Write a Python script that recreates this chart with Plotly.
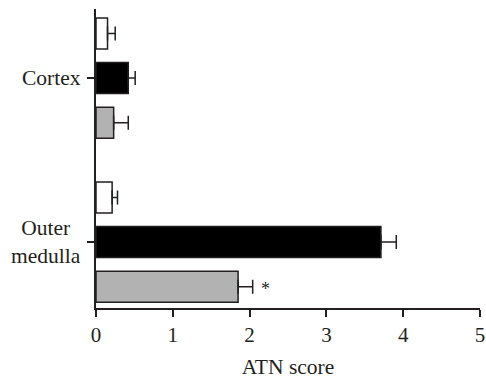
import plotly.graph_objects as go

# Regions (bottom to top on the y axis) and the three series per region
regions = ["Outer<br>medulla", "Cortex"]
series_names = ["Control", "Untreated", "Treated"]
series_fill = ["#ffffff", "#000000", "#b2b2b2"]

# ATN score means and SEM, ordered as [Outer medulla, Cortex]
means = {
    "Control": [0.21, 0.15],
    "Untreated": [3.71, 0.42],
    "Treated": [1.85, 0.23],
}
sems = {
    "Control": [0.07, 0.10],
    "Untreated": [0.20, 0.09],
    "Treated": [0.19, 0.19],
}

x_ticks = [0, 1, 2, 3, 4, 5]

INK = "#231f20"
FONT = "Liberation Serif"
FS = 21.5

# within-group vertical offset of each series (top, middle, bottom)
offsets = [0.272, 0.0, -0.272]
bar_w = 0.189

fig = go.Figure()
for name, fill, off in zip(series_names, series_fill, offsets):
    fig.add_trace(go.Bar(
        orientation="h",
        x=means[name],
        y=[i + off for i in range(len(regions))],
        width=bar_w,
        marker=dict(color=fill, line=dict(color=INK, width=1.5)),
        error_x=dict(type="data", symmetric=False, array=sems[name],
                     arrayminus=[0] * len(regions),
                     color=INK, thickness=1.5, width=7),
        name=name,
        showlegend=False,
    ))

# significance marker next to the treated outer-medulla bar
fig.add_annotation(
    x=means["Treated"][0] + sems["Treated"][0], y=0 + offsets[2],
    xref="x", yref="y", text="*", showarrow=False,
    xanchor="left", yanchor="middle", xshift=6, yshift=-2,
    font=dict(family=FONT, size=18, color=INK),
)

# region labels, centred line by line
for i, lab in enumerate(regions):
    fig.add_annotation(
        x=0, y=i, xref="paper", yref="y", text=lab, showarrow=False,
        xanchor="right", yanchor="middle", align="center", xshift=-13,
        font=dict(family=FONT, size=FS, color=INK),
    )

fig.update_layout(
    width=486, height=382,
    margin=dict(l=96, r=6, t=9, b=74, autoexpand=False),
    paper_bgcolor="white", plot_bgcolor="white",
    font=dict(family=FONT, size=FS, color=INK),
    xaxis=dict(
        range=[0, 5], tickvals=x_ticks, ticks="outside", ticklen=7,
        tickwidth=1.5, tickcolor=INK, showline=True, linecolor=INK,
        linewidth=1.5, showgrid=False, zeroline=False,
        tickfont=dict(family=FONT, size=21, color=INK),
        title=dict(text="ATN score", standoff=13,
                   font=dict(family=FONT, size=FS, color=INK)),
    ),
    yaxis=dict(
        range=[-0.402, 1.421], tickvals=[0, 1], ticks="outside", ticklen=7,
        tickwidth=1.5, tickcolor=INK, showticklabels=False,
        showline=True, linecolor=INK, linewidth=1.5,
        showgrid=False, zeroline=False,
    ),
)

fig.write_html("out.html")
